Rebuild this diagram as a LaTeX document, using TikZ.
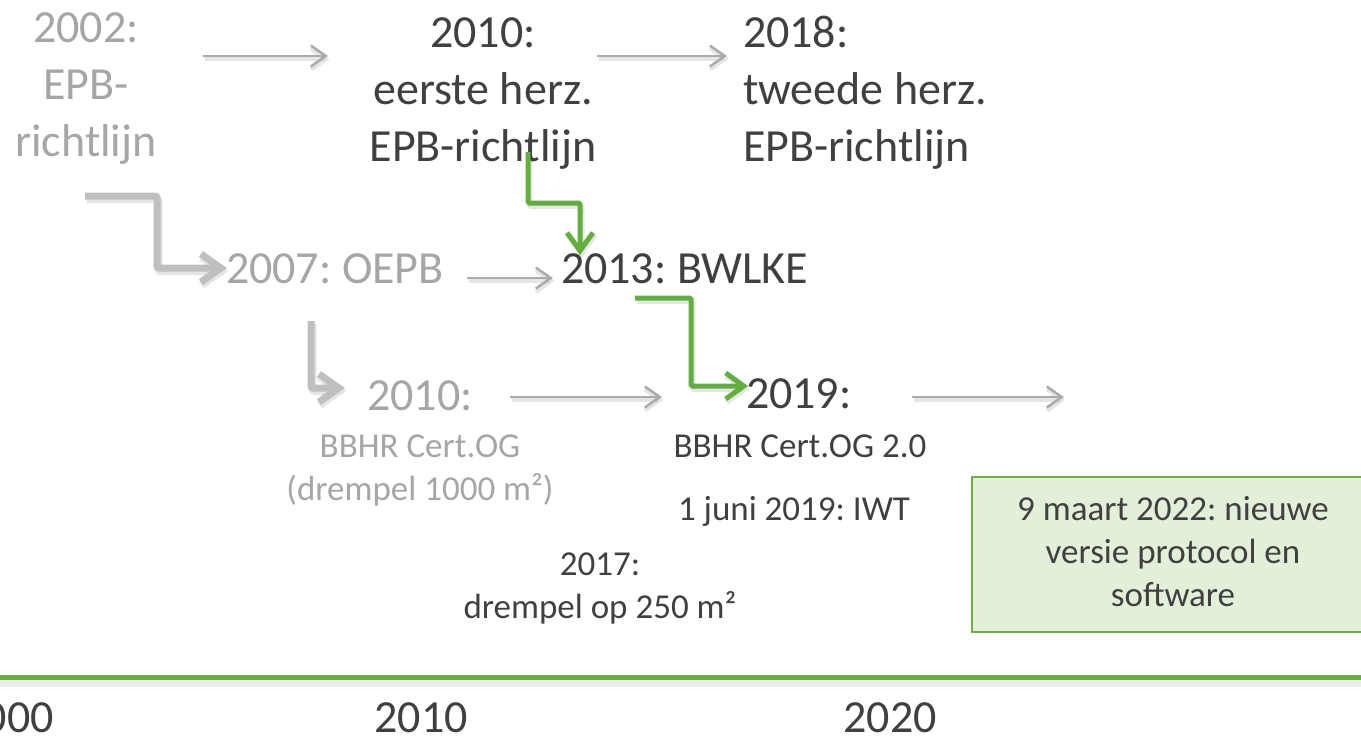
\documentclass[tikz,border=0pt]{standalone}
\usepackage{fontspec}
\setmainfont{Carlito}
\usetikzlibrary{arrows.meta}
\definecolor{dark}{HTML}{404040}
\definecolor{lgrey}{HTML}{A6A6A6}
\definecolor{argrey}{HTML}{ABABAB}
\definecolor{thickgrey}{HTML}{BFBFBF}
\definecolor{grn}{HTML}{62AF3E}
\definecolor{boxfill}{HTML}{E2F0D9}
\definecolor{boxline}{HTML}{70AD47}
\newcommand\bigfnt{\fontsize{46}{57}\selectfont}
\newcommand\smallfnt{\fontsize{35}{43}\selectfont}
\frenchspacing
\begin{document}
\begin{tikzpicture}[x=1pt,y=-1pt,
  txt/.style={inner sep=0pt, outer sep=0pt, anchor=north, align=center},
  bigtxt/.style={txt, font=\bigfnt},
  smalltxt/.style={txt, font=\smallfnt},
  yeartxt/.style={inner sep=0pt, outer sep=0pt, anchor=base, font=\bigfnt, text=dark},
  shadowed/.style={preaction={draw=black, opacity=0.10, line width=#1, transform canvas={shift={(1.5pt,-3pt)}}}},
  thinarrow/.style={draw=argrey, line width=2.5pt, -{Straight Barb[length=15pt,width=21pt]}, shadowed=4pt},
  thickarrow/.style={draw=thickgrey, line width=7pt, rounded corners=2pt, -{Straight Barb[length=20pt,width=28pt]}, shadowed=8pt},
  greenarrow/.style={draw=grn, line width=5pt, rounded corners=1.5pt, -{Straight Barb[length=18pt,width=26pt]}, shadowed=6pt}
]
\useasboundingbox (0,0) rectangle (1361,740);
\clip (0,0) rectangle (1361,740);

% timeline
\coordinate (tl0) at (0,677);
\coordinate (tl1) at (1361,677);
\draw[draw=black, opacity=0.07, line width=9pt] (0,682) -- (1361,682);
\draw[grn, line width=5pt] (tl0) -- (tl1);

% texts
\node[bigtxt, text=lgrey] (n2002) at (86,2.1) {\strut 2002:\\EPB-\\richtlijn};
\node[bigtxt, text=dark] (n2010a) at (483,7.1) {\strut 2010:\\eerste herz.\\EPB-richtlijn};
\node[bigtxt, text=dark, anchor=north west, align=left] (n2018) at (743,7.1) {\strut 2018:\\tweede herz.\\EPB-richtlijn};
\node[bigtxt, text=lgrey, anchor=north west] (n2007) at (226,243.1) {\strut 2007: OEPB};
\node[bigtxt, text=dark, anchor=north west] (n2013) at (561,243.1) {\strut 2013: BWLKE};
\node[bigtxt, text=lgrey] (n2010b) at (420,370.1) {\strut 2010:};
\node[smalltxt, text=lgrey] (bbhr) at (420,426.9) {\strut BBHR Cert.OG\\(drempel 1000 m²)};
\node[bigtxt, text=dark, anchor=north west] (n2019) at (746,368.1) {\strut 2019:};
\node[smalltxt, text=dark] (bbhr2) at (800,426.9) {\strut BBHR Cert.OG 2.0};
\node[smalltxt, text=dark] (iwt) at (794,489.9) {\strut 1 juni 2019: IWT};
\node[smalltxt, text=dark] (n2017) at (600,544.9) {\strut 2017:\\drempel op 250 m²};
\node[draw=boxline, fill=boxfill, line width=1.5pt, minimum width=402pt, minimum height=155pt,
      inner sep=0pt, font=\smallfnt, text=dark, align=center] (box) at (1173,554.5)
      {\strut 9 maart 2022: nieuwe\\versie protocol en\\software\strut};

% axis years
\node[yeartxt] (y2000) at (7,732) {2000};
\node[yeartxt] (y2010) at (421,732) {2010};
\node[yeartxt] (y2020) at (890,732) {2020};

% connector end points
\coordinate (a1s) at (203,56);  \coordinate (a1e) at (328,56);
\coordinate (a2s) at (597,56);  \coordinate (a2e) at (727,56);
\coordinate (a3s) at (467,278); \coordinate (a3e) at (553,278);
\coordinate (a4s) at (510,397); \coordinate (a4e) at (662,397);
\coordinate (a5s) at (912,397); \coordinate (a5e) at (1064,397);
\coordinate (e1s) at (85,196);  \coordinate (e1m) at (157,268); \coordinate (e1e) at (227,268);
\coordinate (e2s) at (311,321); \coordinate (e2e) at (345,388);
\coordinate (g1s) at (528,152); \coordinate (g1m) at (580,203); \coordinate (g1e) at (580,255);
\coordinate (g2s) at (635,298); \coordinate (g2m) at (691,386); \coordinate (g2e) at (748,386);

% thin grey arrows
\draw[thinarrow] (a1s) -- (a1e);
\draw[thinarrow] (a2s) -- (a2e);
\draw[thinarrow] (a3s) -- (a3e);
\draw[thinarrow] (a4s) -- (a4e);
\draw[thinarrow] (a5s) -- (a5e);

% thick grey elbows
\draw[thickarrow] (e1s) -| (e1m) -- (e1e);
\draw[thickarrow] (e2s) |- (e2e);

% green elbows
\draw[greenarrow] (g1s) |- (g1m) -- (g1e);
\draw[greenarrow] (g2s) -| (g2m) -- (g2e);
\end{tikzpicture}
\end{document}
